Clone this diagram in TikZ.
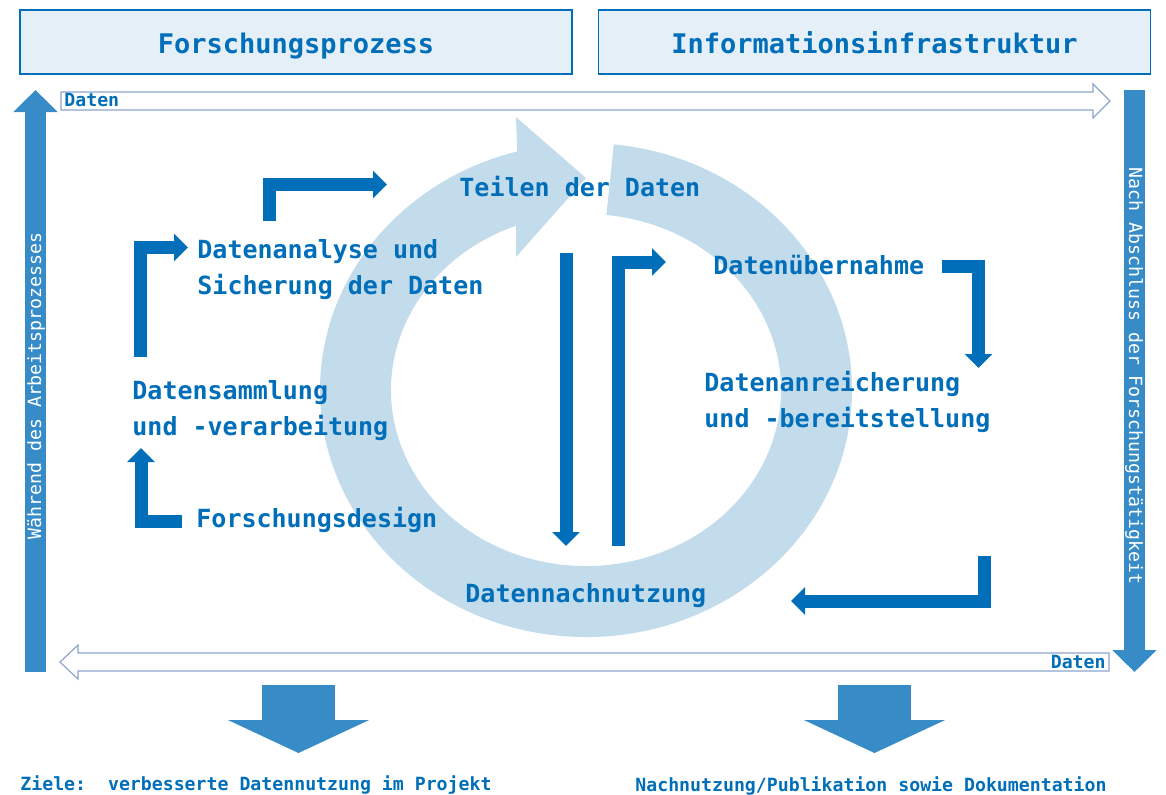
\documentclass[tikz,border=0pt]{standalone}
\usepackage{fontspec}
\setmonofont{DejaVu Sans Mono}
\usepackage{tikz}
\usetikzlibrary{arrows.meta}
\usetikzlibrary{calc}

\definecolor{dblue}{RGB}{0,110,184}
\definecolor{mblue}{RGB}{55,140,200}
\definecolor{ringblue}{RGB}{195,220,236}
\definecolor{boxfill}{RGB}{228,239,248}
\definecolor{outl}{RGB}{140,165,205}

\begin{document}
\begin{tikzpicture}[x=0.5pt, y=-0.5pt,
    titlebox/.style={draw=dblue, line width=0.6pt, fill=boxfill, minimum width=276pt, minimum height=32pt, inner sep=0pt, text height=11pt, text depth=0pt, text=dblue, font=\ttfamily\bfseries\fontsize{13.5}{16}\selectfont},
    lbl/.style={anchor=base west, inner sep=0pt, text=dblue, align=left, font=\ttfamily\bfseries\fontsize{12.5}{18}\selectfont},
    small/.style={inner sep=0pt, text=dblue, font=\ttfamily\bfseries\fontsize{9.1}{11}\selectfont},
    sidetxt/.style={inner sep=0pt, text=white, font=\ttfamily\fontsize{9.1}{11}\selectfont},
    flow/.style={draw=dblue, line width=6.5pt, -{Triangle[width=13.5pt, length=7pt]}},
    side/.style={draw=mblue, line width=10.5pt, -{Triangle[width=21.5pt, length=11pt]}},
    fat/.style={draw=mblue, line width=36.5pt, -{Triangle[width=70pt, length=16.5pt]}},
    hollow/.style={draw=outl, line width=0.6pt, fill=white}]
    \useasboundingbox (0,0) rectangle (1166,794);

    \node[titlebox] (fp) at (296,42) {Forschungsprozess};
    \node[titlebox] (ii) at (874.5,42) {Informationsinfrastruktur};

    % Datenfluss
    \draw[hollow] (61,92) -- (1093,92) -- (1093,84) -- (1110,101) -- (1093,118) -- (1093,110) -- (61,110) -- cycle;
    \draw[hollow] (1109,653) -- (78,653) -- (78,645) -- (60,662) -- (78,679) -- (78,671) -- (1109,671) -- cycle;
    \node[small, anchor=base west] (d1) at (64,106) {Daten};
    \node[small, anchor=base east] (d2) at (1106,668) {Daten};

    % Seitenpfeile
    \coordinate (wb) at (35.5,672);
    \coordinate (wt) at (35.5,90);
    \coordinate (nt) at (1134.5,90);
    \coordinate (nb) at (1134.5,672);
    \draw[side] (wb) -- (wt);
    \draw[side] (nt) -- (nb);
    \node[sidetxt, rotate=90] (wa) at (36,386) {Während des Arbeitsprozesses};
    \node[sidetxt, rotate=-90] (na) at (1134,376) {Nach Abschluss der Forschungstätigkeit};

    % Kreislauf
    \fill[ringblue] (586,390) ++(-84:266 and 247) arc[start angle=-84, end angle=255, x radius=266, y radius=247]
        -- (516,117) -- (586,178) -- (516,257)
        -- ($(586,390)+(249:195 and 176)$) arc[start angle=249, end angle=-84, x radius=195, y radius=176] -- cycle;

    \node[lbl] (teilen) at (459,196) {Teilen der Daten};
    \node[lbl] (analyse) at (197,294) {Datenanalyse und\\Sicherung der Daten};
    \node[lbl] (samml) at (132,435) {Datensammlung\\und -verarbeitung};
    \node[lbl] (design) at (196,527) {Forschungsdesign};
    \node[lbl] (uebern) at (713,274) {Datenübernahme};
    \node[lbl] (anreich) at (704,427) {Datenanreicherung\\und -bereitstellung};
    \node[lbl] (nachn) at (465,602) {Datennachnutzung};

    \coordinate (s1) at (182,521);   \coordinate (e1) at (141,448);
    \coordinate (s2) at (140,357);   \coordinate (e2) at (188,247.5);
    \coordinate (s3) at (269,221);   \coordinate (e3) at (387,184.5);
    \coordinate (s4) at (566,253);   \coordinate (e4) at (566,546);
    \coordinate (s5) at (618,546);   \coordinate (e5) at (666,262);
    \coordinate (s6) at (942,266);   \coordinate (e6) at (978.5,368);
    \coordinate (s7) at (984,556);   \coordinate (e7) at (791,601);
    \draw[flow] (s1) -| (e1);
    \draw[flow] (s2) |- (e2);
    \draw[flow] (s3) |- (e3);
    \draw[flow] (s4) -- (e4);
    \draw[flow] (s5) |- (e5);
    \draw[flow] (s6) -| (e6);
    \draw[flow] (s7) |- (e7);

    % Ergebnis
    \coordinate (z1) at (298.5,685);  \coordinate (z2) at (298.5,753);
    \coordinate (n1) at (874.5,685);  \coordinate (n2) at (874.5,753);
    \draw[fat] (z1) -- (z2);
    \draw[fat] (n1) -- (n2);
    \node[small, anchor=base west] (ziele) at (20,790) {Ziele:\ \ verbesserte Datennutzung im Projekt};
    \node[small, anchor=base west] (nach) at (635,791) {Nachnutzung/Publikation sowie Dokumentation};
\end{tikzpicture}
\end{document}
